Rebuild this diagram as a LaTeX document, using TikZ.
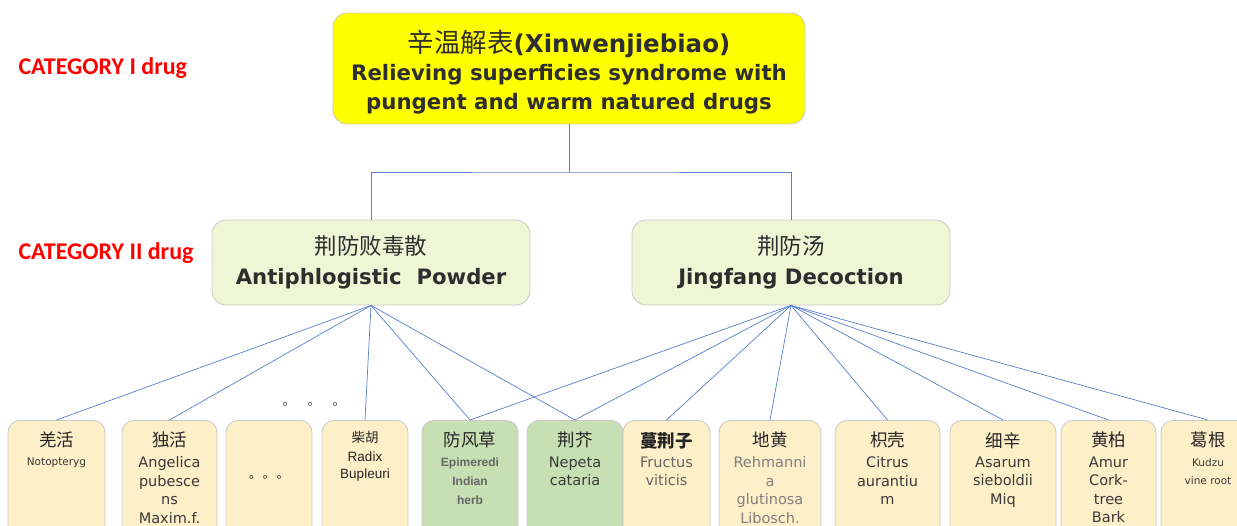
\documentclass[tikz,border=0pt]{standalone}
\usepackage{fontspec}
\setmainfont{DejaVu Sans}
\newfontfamily\cjk{Noto Sans CJK SC}
\newfontfamily\calfont{Carlito}
\newfontfamily\arifont{Liberation Sans}
\definecolor{topyellow}{HTML}{FFFF00}
\definecolor{lvlgreen}{HTML}{EFF6D6}
\definecolor{cream}{HTML}{FDEFC8}
\definecolor{leafgreen}{HTML}{C6E0B4}
\definecolor{lineblue}{HTML}{5580CC}
\definecolor{boxgray}{HTML}{C8C8C8}
\definecolor{txtgray}{HTML}{3A3A3A}
\begin{document}
\begin{tikzpicture}[x=1pt,y=-1pt,
  rbox/.style={draw=boxgray, line width=0.8pt, rounded corners=14pt},
  botbox/.style={draw=boxgray, line width=0.8pt, rounded corners=12pt, fill=cream,
                 minimum height=140pt, anchor=north, inner sep=0pt},
  conn/.style={draw=lineblue, line width=0.7pt},
  cattext/.style={text=red, font=\calfont\bfseries\fontsize{24}{26}\selectfont, anchor=west},
  zh/.style={font=\cjk\fontsize{17.5}{20}\selectfont, text=black!85},
  en/.style={font=\fontsize{14.5}{18.5}\selectfont, text=txtgray},
  btext/.style={align=center, anchor=north, inner sep=0pt}
]
\clip (0,0) rectangle (1237,525);
\useasboundingbox (0,0) rectangle (1237,525);

% category labels
\node[cattext] (c1) at (15,68) {CATEGORY I drug};
\node[cattext] (c2) at (15,253) {CATEGORY II drug};

% top node
\node[rbox, fill=topyellow, minimum width=472pt, minimum height=111pt] (top) at (569,68.5) {};
\node[align=center, font=\bfseries\fontsize{21.3}{28.5}\selectfont, text=black!82, inner sep=0pt] (toptext) at (569,72)
  {{\cjk\mdseries\fontsize{26.5}{28.5}\selectfont 辛温解表}{\fontsize{24.5}{28.5}\selectfont(Xinwenjiebiao)}\\Relieving superficies syndrome with\\pungent and warm natured drugs};

% level 2
\node[rbox, fill=lvlgreen, minimum width=318pt, minimum height=85pt, align=center,
      font=\bfseries\fontsize{21.2}{30}\selectfont, text=black!82] (l2a) at (371,262.5)
  {{\cjk\mdseries\fontsize{22.5}{30}\selectfont 荆防败毒散}\\Antiphlogistic\ \ Powder};
\node[rbox, fill=lvlgreen, minimum width=318pt, minimum height=85pt, align=center,
      font=\bfseries\fontsize{21.2}{30}\selectfont, text=black!82] (l2b) at (791,262.5)
  {{\cjk\mdseries\fontsize{22.5}{30}\selectfont 荆防汤}\\Jingfang Decoction};

\coordinate (j) at (569,172);
\draw[conn] (top.south) -- (j);
\draw[conn] (l2a.north) |- (j) -| (l2b.north);

% bottom boxes
\node[botbox, minimum width=97pt] (b1) at (56.5,420) {};
\node[botbox, minimum width=95pt] (b2) at (169.5,420) {};
\node[botbox, minimum width=86pt] (b3) at (269,420) {};
\node[botbox, minimum width=86pt] (b4) at (365,420) {};
\node[botbox, minimum width=96pt, fill=leafgreen] (b5) at (470,420) {};
\node[botbox, minimum width=96pt, fill=leafgreen] (b6) at (575,420) {};
\node[botbox, minimum width=87pt] (b7) at (666.5,420) {};
\node[botbox, minimum width=102pt] (b8) at (770,420) {};
\node[botbox, minimum width=105pt] (b9) at (887.5,420) {};
\node[botbox, minimum width=106pt] (b10) at (1003,420) {};
\node[botbox, minimum width=95pt] (b11) at (1108.5,420) {};
\node[botbox, minimum width=94pt] (b12) at (1208,420) {};

% texts
\node[btext, zh] (z1) at ([yshift=-12pt]b1.north) {羌活};
\node[btext, en, font=\fontsize{10.5}{14}\selectfont] (e1) at ([yshift=-38pt]b1.north) {Notopteryg};

\node[btext, zh] (z2) at ([yshift=-12pt]b2.north) {独活};
\node[btext, en] (e2) at ([yshift=-36.5pt]b2.north) {Angelica\\pubesce\\ns\\Maxim.f.};

\node[btext, zh, font=\cjk\fontsize{12}{14}\selectfont] (z3) at ([yshift=-55pt]b3.north) {。\,。\,。};

\node[btext, zh, font=\cjk\fontsize{13.5}{15}\selectfont] (z4) at ([yshift=-11pt]b4.north) {柴胡};
\node[btext, en, font=\arifont\fontsize{13.5}{16.5}\selectfont, text=black!85] (e4) at ([yshift=-32pt]b4.north) {Radix\\Bupleuri};

\node[btext, zh] (z5) at ([yshift=-12pt]b5.north) {防风草};
\node[btext, en, font=\arifont\bfseries\fontsize{12}{19}\selectfont, text=black!60] (e5) at ([yshift=-38pt]b5.north) {Epimeredi\\Indian\\herb};

\node[btext, zh] (z6) at ([yshift=-12pt]b6.north) {荆芥};
\node[btext, en] (e6) at ([yshift=-36.5pt]b6.north) {Nepeta\\cataria};

\node[btext, zh, font=\cjk\bfseries\fontsize{17.5}{20}\selectfont] (z7) at ([yshift=-12pt]b7.north) {蔓荆子};
\node[btext, en, text=black!60] (e7) at ([yshift=-36.5pt]b7.north) {Fructus\\viticis};

\node[btext, zh] (z8) at ([yshift=-12pt]b8.north) {地黄};
\node[btext, en, text=black!50] (e8) at ([yshift=-36.5pt]b8.north) {Rehmanni\\a\\glutinosa\\Libosch.};

\node[btext, zh] (z9) at ([yshift=-12pt]b9.north) {枳壳};
\node[btext, en] (e9) at ([yshift=-36.5pt]b9.north) {Citrus\\aurantiu\\m};

\node[btext, zh] (z10) at ([yshift=-12pt]b10.north) {细辛};
\node[btext, en] (e10) at ([yshift=-36.5pt]b10.north) {Asarum\\sieboldii\\Miq};

\node[btext, zh] (z11) at ([yshift=-12pt]b11.north) {黄柏};
\node[btext, en] (e11) at ([yshift=-36.5pt]b11.north) {Amur\\Cork-\\tree\\Bark};

\node[btext, zh] (z12) at ([yshift=-12pt]b12.north) {葛根};
\node[btext, en, font=\fontsize{10.5}{18}\selectfont] (e12) at ([yshift=-38pt]b12.north) {Kudzu\\vine root};

% dots above
\node[font=\cjk\fontsize{13}{14}\selectfont, text=black!75, inner sep=0pt] (dots) at (314,404) {。\hspace{12pt}。\hspace{12pt}。};

% connectors from left formula
\foreach \b in {b1,b2,b4,b5,b6}
  \draw[conn] (l2a.south) -- (\b.north);
% connectors from right formula
\foreach \b in {b5,b6,b7,b8,b9,b10,b11,b12}
  \draw[conn] (l2b.south) -- (\b.north);
\end{tikzpicture}
\end{document}
